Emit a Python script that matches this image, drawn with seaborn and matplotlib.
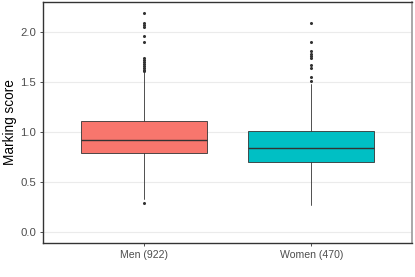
import matplotlib
matplotlib.use("Agg")
import matplotlib.pyplot as plt
import seaborn as sns

# ---- data ----
categories = ["Men (922)", "Women (470)"]
q1 = [0.79, 0.70]
median = [0.923, 0.84]
q3 = [1.11, 1.013]
whisker_low = [0.33, 0.27]
whisker_high = [1.60, 1.48]
fliers_men = [0.29, 1.61, 1.62, 1.64, 1.66, 1.68, 1.70, 1.72, 1.74,
              1.90, 1.96, 2.05, 2.07, 2.09, 2.19]
fliers_women = [1.51, 1.55, 1.64, 1.67, 1.74, 1.76, 1.78, 1.81, 1.90, 2.09]
colors = ["#F8766D", "#00BFC4"]
y_ticks = [0.0, 0.5, 1.0, 1.5, 2.0]
y_label = "Marking score"

sns.set_theme(style="white")
plt.rcParams['font.family'] = ['Liberation Sans', 'DejaVu Sans']

fig = plt.figure(figsize=(4.15, 2.77), dpi=100)
ax = fig.add_axes([43 / 415, 1 - 243 / 277, 369 / 415, 241 / 277])

fliers = [fliers_men, fliers_women]
stats = []
for i, c in enumerate(categories):
    stats.append(dict(label=c, q1=q1[i], med=median[i], q3=q3[i],
                      whislo=whisker_low[i], whishi=whisker_high[i],
                      fliers=fliers[i]))

edge = "#333333"
bp = ax.bxp(stats, positions=[1, 2], widths=0.75, patch_artist=True,
            showcaps=False,
            boxprops=dict(edgecolor=edge, linewidth=0.6),
            medianprops=dict(color=edge, linewidth=1.0),
            whiskerprops=dict(color=edge, linewidth=0.6),
            flierprops=dict(marker="o", markersize=1.2, markerfacecolor=edge,
                            markeredgecolor=edge, linestyle="none"))
for patch, col in zip(bp["boxes"], colors):
    patch.set_facecolor(col)

for y in y_ticks:
    ax.axhline(y, color="#ebebeb", linewidth=0.8, zorder=0)

ax.set_xlim(0.4, 2.6)
ax.set_ylim(-0.1095, 2.2995)
ax.set_yticks(y_ticks)
ax.set_yticklabels([f"{v:.1f}" for v in y_ticks])
ax.set_xticks([1, 2])
ax.set_xticklabels(categories)
ax.tick_params(axis="both", length=2, width=0.6, color="#333333",
               labelsize=7.6, labelcolor="#4d4d4d", pad=3)
ax.tick_params(axis="y", left=True, labelsize=8.2)
ax.tick_params(axis="x", bottom=True)
ax.set_ylabel(y_label, fontsize=9.8, color="black", labelpad=2)
ax.set_xlabel("")
for side in ["left", "bottom", "top"]:
    ax.spines[side].set_color("#333333")
    ax.spines[side].set_linewidth(1.0)
ax.spines["right"].set_color("#9a9a9a")
ax.spines["right"].set_linewidth(1.2)
ax.grid(False)

fig.savefig("out.png", dpi=100)
